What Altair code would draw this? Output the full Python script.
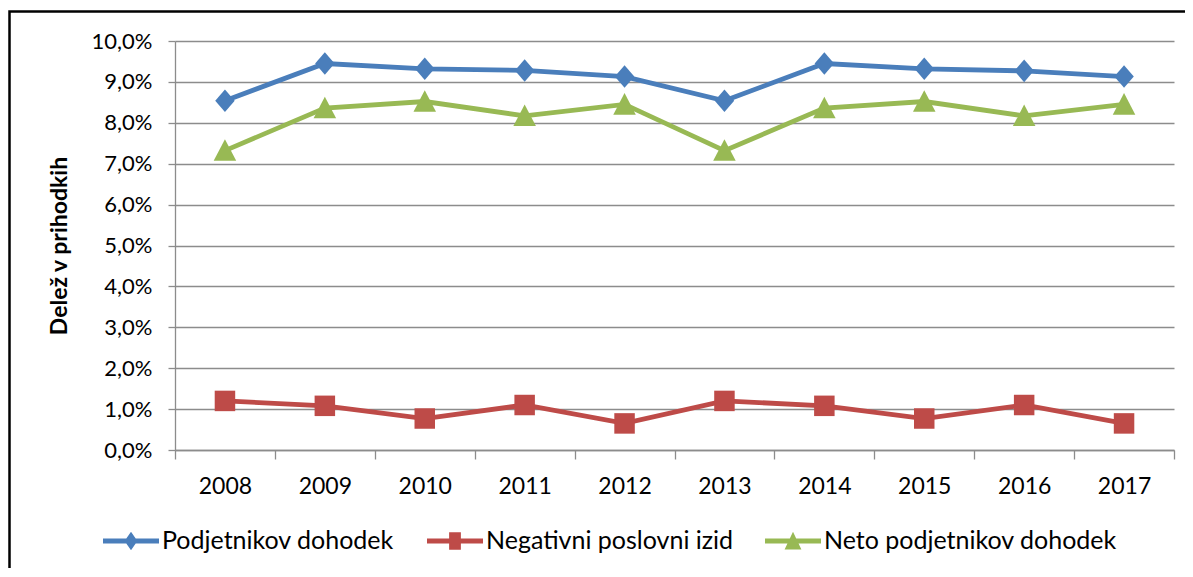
import altair as alt
import pandas as pd

years = ["2008", "2009", "2010", "2011", "2012", "2013", "2014", "2015", "2016", "2017"]
series_names = ["Podjetnikov dohodek", "Negativni poslovni izid", "Neto podjetnikov dohodek"]
podjetnikov = [8.54, 9.45, 9.32, 9.28, 9.13, 8.54, 9.45, 9.32, 9.27, 9.13]
negativni = [1.20, 1.08, 0.77, 1.10, 0.65, 1.20, 1.08, 0.77, 1.10, 0.65]
neto = [7.32, 8.36, 8.52, 8.17, 8.45, 7.32, 8.36, 8.52, 8.17, 8.45]
y_ticks = [0, 1, 2, 3, 4, 5, 6, 7, 8, 9, 10]

colors = ["#4A7EBB", "#BE4B48", "#98B954"]
plot_shapes = [
    "M0,-1.1L0.95,0L0,1.1L-0.95,0Z",
    "M-1,-1H1V1H-1Z",
    "M0,-1.1L1.1,1L-1.1,1Z",
]
legend_shapes = [
    "M-1,-0.085H1V0.085H-1Z M0,-0.33L0.23,0L0,0.33L-0.23,0Z",
    "M-1,-0.085H1V0.085H-1Z M-0.21,-0.31H0.21V0.31H-0.21Z",
    "M-1,-0.085H1V0.085H-1Z M0,-0.33L0.3,0.3L-0.3,0.3Z",
]
legend_x = [-72, 252, 590]

rows = []
for name, vals in zip(series_names, [podjetnikov, negativni, neto]):
    for yr, v in zip(years, vals):
        rows.append({"leto": yr, "serija": name, "delez": v / 100})
df = pd.DataFrame(rows)

W, H = 999, 409
PAD_L, PAD_T = 167, 33
TOTAL_W, TOTAL_H = 1177, 560
FONT = "Lato"
GRID = "#8C8C8C"

x_enc = alt.X(
    "leto:O",
    title=None,
    sort=years,
    scale=alt.Scale(type="band", paddingInner=0, paddingOuter=0),
    axis=alt.Axis(
        labelAngle=0,
        tickBand="extent",
        labelFontSize=23,
        labelFont=FONT,
        labelColor="#000000",
        labelPadding=16,
        tickSize=9,
        tickColor=GRID,
        tickWidth=1.3,
        domainColor=GRID,
        domainWidth=1.3,
        grid=False,
    ),
)
y_enc = alt.Y(
    "delez:Q",
    title="Delež v prihodkih",
    scale=alt.Scale(domain=[0, 0.1], nice=False),
    axis=alt.Axis(
        values=[t / 100 for t in y_ticks],
        labelExpr="replace(format(datum.value, '.1%'), '.', ',')",
        labelFontSize=22,
        labelFont=FONT,
        labelColor="#000000",
        labelPadding=16,
        tickSize=7,
        tickColor=GRID,
        tickWidth=1.3,
        domainColor=GRID,
        domainWidth=1.3,
        gridColor=GRID,
        gridWidth=1.3,
        titleFont=FONT,
        titleFontSize=23,
        titleFontWeight="bold",
        titleColor="#000000",
        titleX=-104,
        titleY=H / 2,
    ),
)
color_scale = alt.Scale(domain=series_names, range=colors)

lines = alt.Chart(df).mark_line(strokeWidth=4.8).encode(
    x=x_enc,
    y=y_enc,
    color=alt.Color("serija:N", scale=color_scale, legend=None),
    detail="serija:N",
)

points = alt.Chart(df).mark_point(filled=True, size=420, opacity=1, strokeWidth=0).encode(
    x=x_enc,
    y=y_enc,
    color=alt.Color("serija:N", scale=color_scale, legend=None),
    shape=alt.Shape("serija:N", scale=alt.Scale(domain=series_names, range=plot_shapes), legend=None),
)

legend_layers = []
for name, col, shp, lx in zip(series_names, colors, legend_shapes, legend_x):
    legend_layers.append(
        alt.Chart(pd.DataFrame({"serija": [name]})).mark_point(filled=True, opacity=0).encode(
            color=alt.Color(
                "serija:N",
                scale=alt.Scale(domain=[name], range=[col]),
                legend=alt.Legend(
                    title=None,
                    orient="none",
                    legendX=lx,
                    legendY=472,
                    symbolType=shp,
                    symbolSize=3136,
                    symbolOpacity=1,
                    symbolStrokeWidth=0,
                    labelFont=FONT,
                    labelFontSize=25,
                    labelColor="#000000",
                    labelOffset=3,
                    labelLimit=400,
                    padding=0,
                ),
            ),
        )
    )

frame = alt.Chart(pd.DataFrame({"k": [0]})).mark_rect(
    filled=False, stroke="#000000", strokeWidth=2.5
).encode(
    x=alt.value(-165.5),
    x2=alt.value(W + 60),
    y=alt.value(-29.5),
    y2=alt.value(H + 200),
)

chart = (
    alt.layer(frame, lines, points, *legend_layers)
    .resolve_scale(color="independent", shape="independent")
    .properties(
        width=W,
        height=H,
        autosize=alt.AutoSizeParams(type="none"),
        padding={"left": PAD_L, "top": PAD_T, "right": TOTAL_W - PAD_L - W, "bottom": TOTAL_H - PAD_T - H},
        background="#FFFFFF",
    )
    .configure_view(stroke=None)
    .configure_axis(labelFont=FONT)
)

chart.save("out.html", embed_options={"renderer": "svg", "actions": False})
